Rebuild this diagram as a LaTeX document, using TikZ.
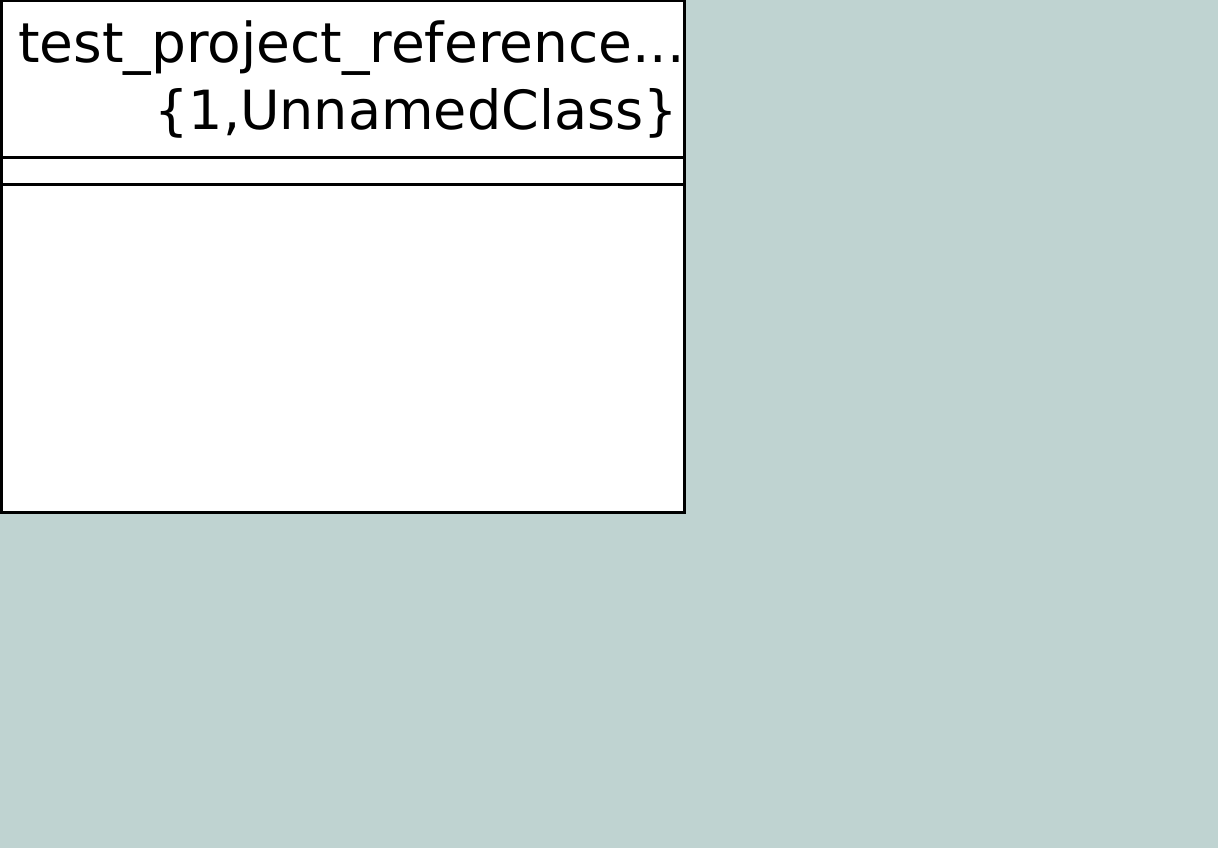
\documentclass[tikz,border=0pt]{standalone}
\usepackage{fontspec}
\setmainfont{DejaVu Sans}
\definecolor{canvas}{RGB}{191,211,209}
\tikzset{
  classbox/.style={draw=black, fill=white, line width=3pt},
  compline/.style={draw=black, line width=3pt},
  classtext/.style={inner sep=0pt, font=\fontsize{54}{63}\selectfont}
}
\begin{document}
\begin{tikzpicture}[x=1pt,y=-1pt]
  \useasboundingbox (0,0) rectangle (1231,861);
  % diagram canvas
  \fill[canvas] (0,0) rectangle (1218,848);
  % class box with name, attribute and operation compartments
  \path[classbox] (1,1) rectangle (684,512);
  \coordinate (nameL) at (1,158);
  \coordinate (nameR) at (684,158);
  \coordinate (attrL) at (1,185);
  \coordinate (attrR) at (684,185);
  \draw[compline] (nameL) -- (nameR);
  \draw[compline] (attrL) -- (attrR);
  \node[classtext, font=\fontsize{55}{63}\selectfont, anchor=base west] (title) at (18,63) {test\_project\_reference...};
  \node[classtext, anchor=base east] (stereo) at (678,130) {\{1,UnnamedClass\}};
\end{tikzpicture}
\end{document}
